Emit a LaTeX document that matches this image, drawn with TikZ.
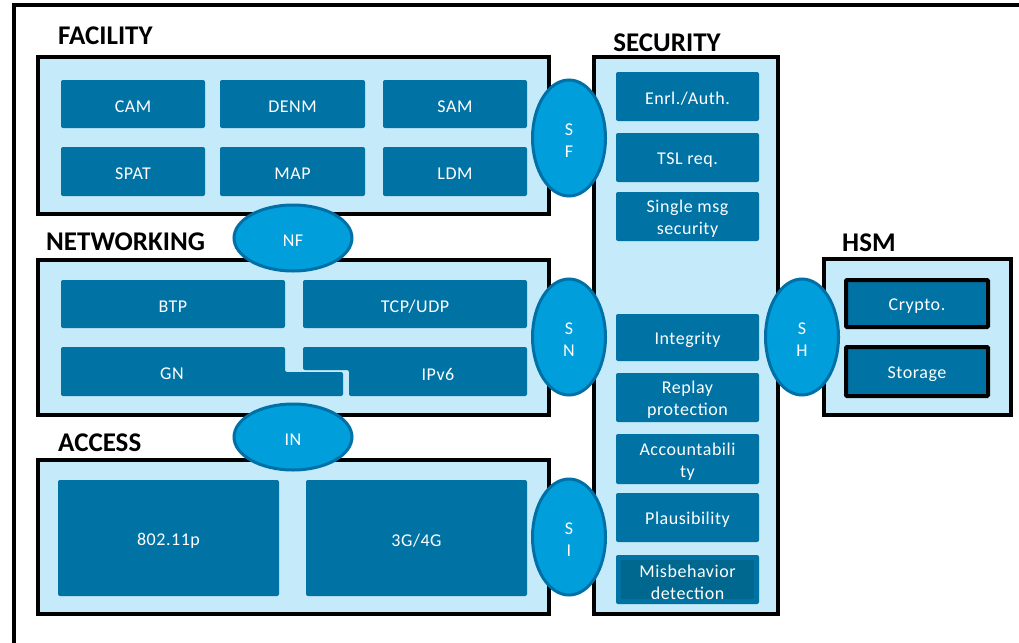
\documentclass[tikz,border=0pt]{standalone}
\usepackage{fontspec}
\setmainfont{Carlito}
\newfontfamily\spacedfam[LetterSpace=3]{Carlito}
\usetikzlibrary{shapes.geometric}

\definecolor{layerfill}{HTML}{C5EBFA}
\definecolor{unitblue}{HTML}{0072A4}
\definecolor{unitdeep}{HTML}{00678F}
\definecolor{ellfill}{HTML}{009EDB}
\definecolor{ellring}{HTML}{0070A6}

\newcommand\titlefont{\bfseries\fontsize{27}{32}\selectfont}
\newcommand\unitfont{\spacedfam\fontsize{18}{22}\selectfont}

% box placed by its corners: style, name, x1, y1, x2, y2, text
\newcommand\placebox[7]{%
  \node[#1, minimum width={#5-#3}, minimum height={#6-#4}] (#2)
    at ({(#3+#5)/2},{(#4+#6)/2}) {#7};}

\tikzset{
  layer/.style={draw=black, line width=4pt, fill=layerfill, inner sep=0pt},
  unit/.style={fill=unitblue, rounded corners=2pt, text=white, font=\unitfont,
               align=center, inner sep=0pt},
  hsmunit/.style={unit, draw=black, line width=4pt, rounded corners=1pt},
  unittext/.style={text=white, font=\unitfont, align=center, inner sep=0pt, yshift=-2.5pt},
  iface/.style={ellipse, draw=ellring, line width=3pt, fill=ellfill, text=white,
                font=\unitfont, align=center, inner sep=0pt},
  title/.style={font=\titlefont, anchor=west, inner sep=0pt},
  frame/.style={draw=black, line width=4pt}
}

% dark unit box with its label set slightly low
\newcommand\unitbox[7]{%
  \placebox{#1}{#2}{#3}{#4}{#5}{#6}{}
  \node[unittext] (#2-label) at (#2) {#7};}

\begin{document}
\begin{tikzpicture}[x=1pt, y=-1pt]
\useasboundingbox (0,0) rectangle (1019,642);

% outer frame
\draw[frame] (14,700) -- (14,5) -- (1100,5);

% layer titles
\node[title] (tfac) at (58,36) {FACILITY};
\node[title] (tnet) at (46,242) {NETWORKING};
\node[title] (tacc) at (58,443) {ACCESS};
\node[title, anchor=center] (tsec) at (667,43) {SECURITY};
\node[title] (thsm) at (842,243) {HSM};

% layers
\placebox{layer}{fac}{38}{57}{549}{214}{}
\placebox{layer}{net}{38}{260}{549}{415}{}
\placebox{layer}{acc}{38}{460}{549}{614}{}
\placebox{layer}{sec}{594}{57}{778}{614}{}
\placebox{layer}{hsm}{824}{259}{1011}{415}{}

% facility units
\unitbox{unit}{cam}{61}{80}{205}{128}{CAM}
\unitbox{unit}{denm}{220}{80}{365}{128}{DENM}
\unitbox{unit}{sam}{383}{80}{527}{128}{SAM}
\unitbox{unit}{spat}{61}{147}{205}{196}{SPAT}
\unitbox{unit}{map}{220}{147}{365}{196}{MAP}
\unitbox{unit}{ldm}{383}{147}{527}{196}{LDM}

% networking units
\unitbox{unit}{btp}{61}{280}{285}{328}{BTP}
\unitbox{unit}{tcp}{303}{280}{527}{328}{TCP/UDP}
\fill[unitblue, rounded corners=2pt]
  (61,347) -- (285,347) -- (285,372) -- (343,372) -- (343,396) -- (61,396) -- cycle;
\fill[unitblue, rounded corners=2pt]
  (303,347) -- (527,347) -- (527,396) -- (349,396) -- (349,370) -- (303,370) -- cycle;
\node[unittext] (gn) at (172,371.5) {GN};
\node[unittext] (ipv6) at (438,371.5) {IPv6};

% access units
\unitbox{unit}{wifi}{58}{480}{279}{596}{802.11p}
\unitbox{unit}{cell}{306}{480}{527}{596}{3G/4G}

% security units
\unitbox{unit}{enrl}{616}{72}{759}{121}{Enrl./Auth.}
\unitbox{unit}{tsl}{616}{133}{759}{182}{TSL req.}
\unitbox{unit}{single}{616}{192}{759}{241}{Single msg\\security}
\unitbox{unit}{integ}{616}{314}{759}{361}{Integrity}
\unitbox{unit}{replay}{616}{373}{759}{422}{Replay\\protection}
\unitbox{unit}{acct}{616}{434}{759}{484}{Accountabili\\ty}
\unitbox{unit}{plaus}{616}{493}{759}{542}{Plausibility}
\placebox{unit}{misb}{616}{555}{759}{604}{}
\placebox{unit, fill=unitdeep, rounded corners=0pt}{misbin}{621}{560}{754}{599}{}
\node[unittext] (misb-label) at (misb) {Misbehavior\\detection};

% hsm units
\unitbox{hsmunit}{crypto}{846}{280}{988}{327}{Crypto.}
\unitbox{hsmunit}{storage}{846}{347}{988}{396}{Storage}

% interfaces
\node[iface, minimum width=118, minimum height=66] (nf) at (293,238) {};
\node[iface, minimum width=118, minimum height=66] (in) at (293,437) {};
\node[iface, minimum width=73, minimum height=116] (sf) at (569,138) {};
\node[iface, minimum width=73, minimum height=116] (sn) at (569,337) {};
\node[iface, minimum width=73, minimum height=116] (si) at (569,537) {};
\node[iface, minimum width=73, minimum height=116] (sh) at (802,337) {};
\node[unittext] (nf-label) at (nf) {NF};
\node[unittext] (in-label) at (in) {IN};
\node[unittext] (sf-label) at (sf) {S\\F};
\node[unittext] (sn-label) at (sn) {S\\N};
\node[unittext] (si-label) at (si) {S\\I};
\node[unittext] (sh-label) at (sh) {S\\H};
\end{tikzpicture}
\end{document}
